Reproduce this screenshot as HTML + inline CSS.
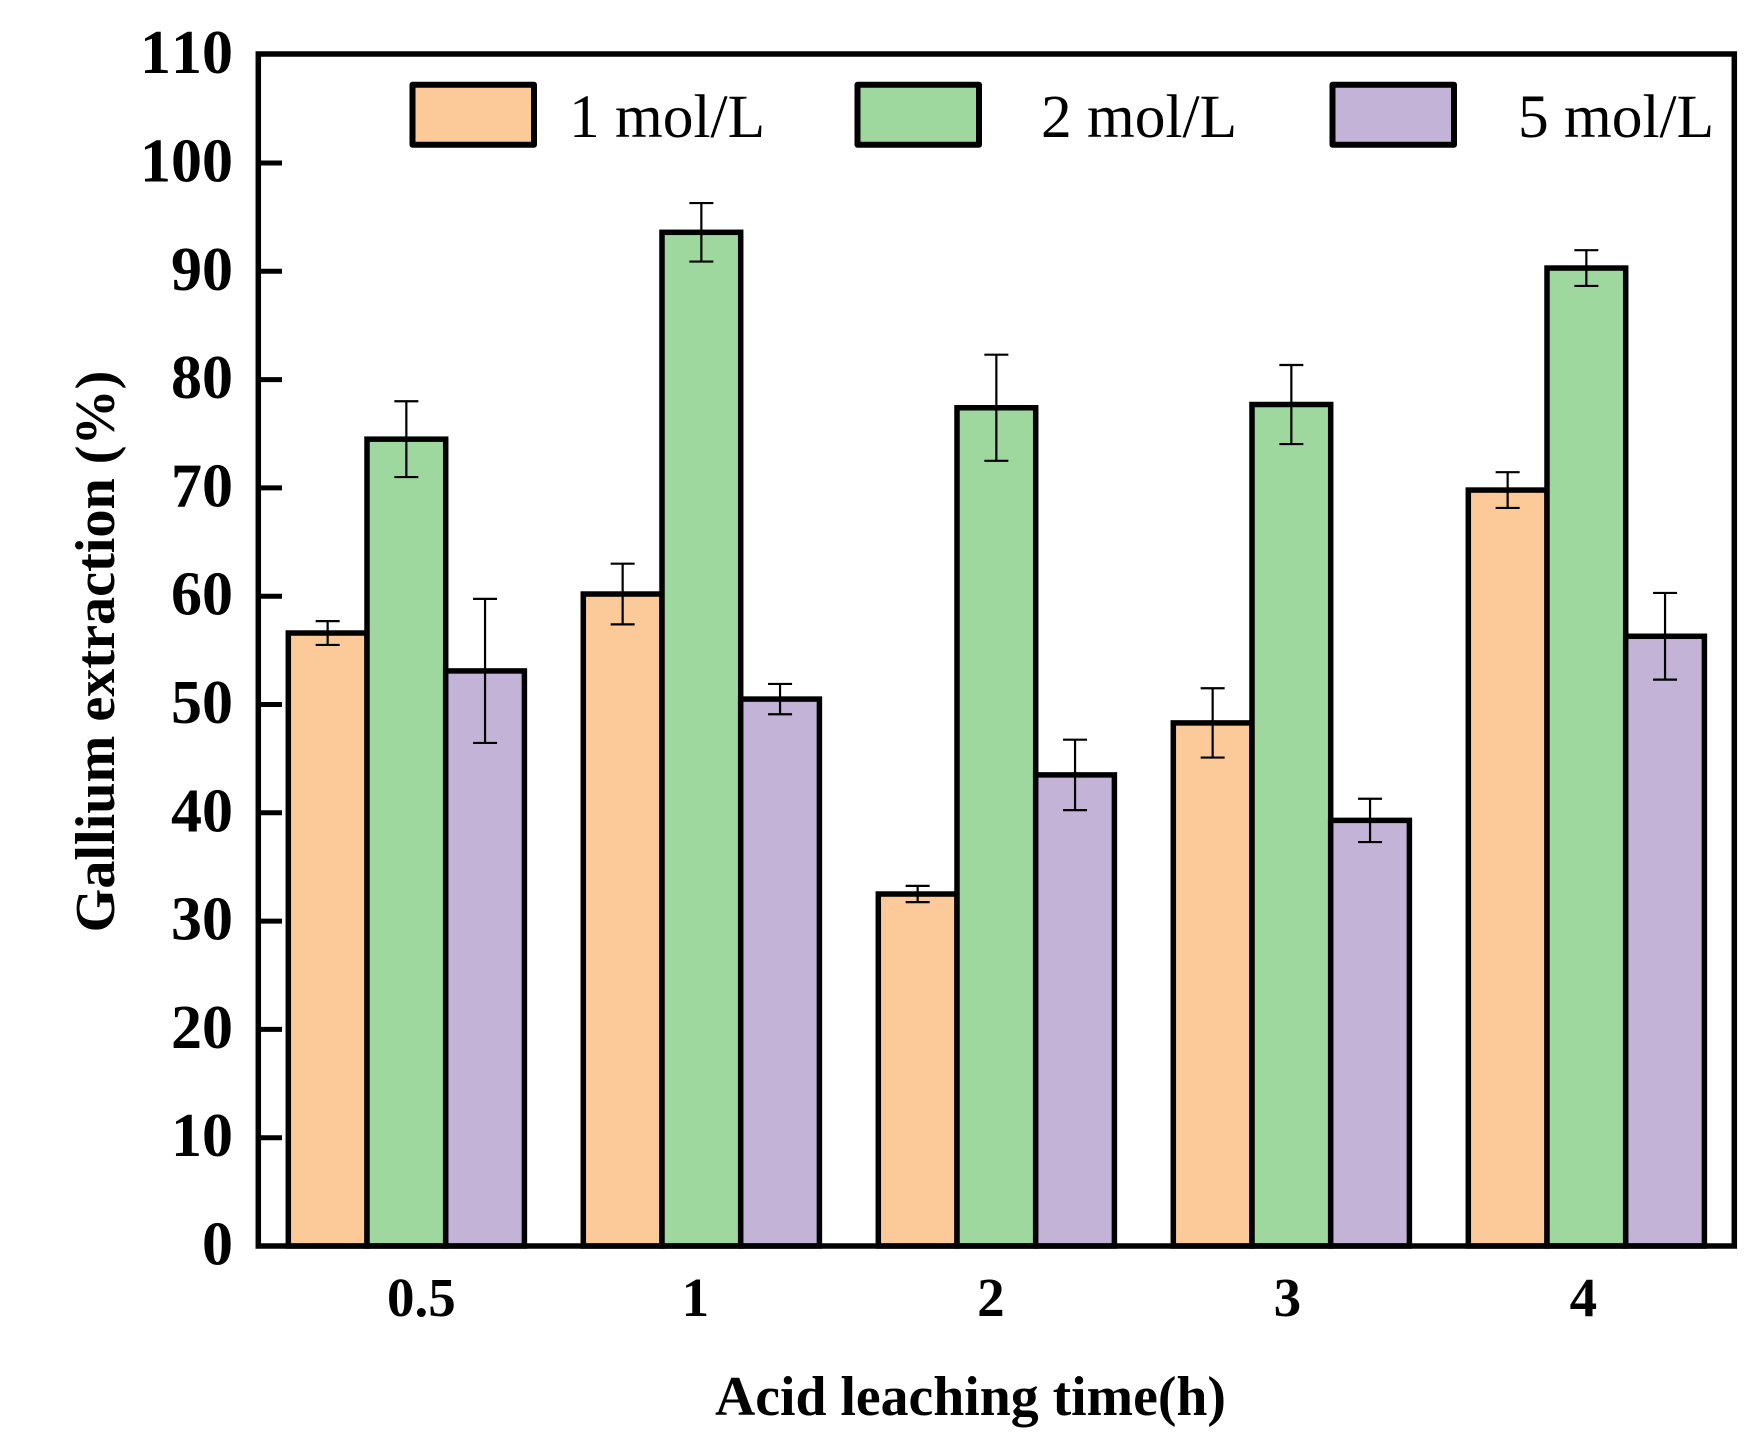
<!DOCTYPE html>
<html lang="en">
<head>
<meta charset="utf-8">
<title>Gallium extraction vs acid leaching time</title>
<style>
html,body{margin:0;padding:0;background:#fff;}
svg{display:block;}
text{font-family:"Liberation Serif",serif;fill:#000;font-kerning:none;}
</style>
</head>
<body>
<svg id="chart" xmlns="http://www.w3.org/2000/svg" width="1761" height="1455" viewBox="0 0 1761 1455">
<rect x="0" y="0" width="1761" height="1455" fill="#ffffff"/>
<g id="bars"></g>
<g id="errors"></g>
<g id="yaxis"></g>
<g id="xaxis"></g>
<rect x="258.3" y="54" width="1476" height="1192" fill="none" stroke="#000" stroke-width="5.5"/>
<g id="legend"></g>
<text x="715" y="1415" font-size="55.75" font-weight="bold">Acid leaching time(h)</text>
<text transform="translate(114,651.5) rotate(-90)" text-anchor="middle" font-size="56.2" font-weight="bold">Gallium extraction (%)</text>
</svg>
<script>
const categories = ['0.5', '1', '2', '3', '4'];
const seriesNames = ['1 mol/L', '2 mol/L', '5 mol/L'];
const values1M = [56.6, 60.2, 32.5, 48.3, 69.8];
const values2M = [74.5, 93.6, 77.4, 77.7, 90.3];
const values5M = [53.1, 50.5, 43.5, 39.3, 56.3];
const errors1M = [1.1, 2.8, 0.75, 3.2, 1.65];
const errors2M = [3.5, 2.7, 4.9, 3.65, 1.65];
const errors5M = [6.65, 1.4, 3.25, 2.0, 4.0];
const yTickValues = [0, 10, 20, 30, 40, 50, 60, 70, 80, 90, 100, 110];

const seriesValues = [values1M, values2M, values5M];
const seriesErrors = [errors1M, errors2M, errors5M];
const seriesKeys = ['1-mol', '2-mol', '5-mol'];
const seriesColors = ['#FCC998', '#9FD89E', '#C2B3D7'];

const NS = 'http://www.w3.org/2000/svg';
const PLOT_LEFT = 258.3;
const Y_ZERO = 1246;
const PX_PER_UNIT = 10.83;
const GROUP_LEFT = 288.3;
const GROUP_STEP = 295;
const BAR_WIDTH = 78.7;
const CAP_HALF = 12;
const xLabelNudge = [15, -6, -5.5, -4, -3];
const legendSwatchLeft = [412.5, 857.5, 1332.5];
const legendTextLeft = [569, 1041, 1518];

function yScale(v) { return Y_ZERO - v * PX_PER_UNIT; }
function barLeft(groupIndex, seriesIndex) { return GROUP_LEFT + groupIndex * GROUP_STEP + seriesIndex * BAR_WIDTH; }
function groupCenter(groupIndex) { return GROUP_LEFT + groupIndex * GROUP_STEP + BAR_WIDTH * 1.5; }

function make(tag, parent, attrs, text) {
  const el = document.createElementNS(NS, tag);
  for (const k in attrs) el.setAttribute(k, attrs[k]);
  if (text !== undefined) el.textContent = text;
  parent.appendChild(el);
  return el;
}

const barsG = document.getElementById('bars');
const errorsG = document.getElementById('errors');
const yG = document.getElementById('yaxis');
const xG = document.getElementById('xaxis');
const legendG = document.getElementById('legend');

seriesValues.forEach(function (vals, s) {
  vals.forEach(function (v, g) {
    const bar = make('rect', barsG, {
      x: barLeft(g, s), y: yScale(v), width: BAR_WIDTH, height: Y_ZERO - yScale(v),
      fill: seriesColors[s], stroke: '#000', 'stroke-width': 5.5
    });
    
    
  });
});

seriesValues.forEach(function (vals, s) {
  vals.forEach(function (v, g) {
    const e = seriesErrors[s][g];
    const cx = barLeft(g, s) + BAR_WIDTH / 2;
    const yHi = yScale(v + e);
    const yLo = yScale(v - e);
    const err = make('path', errorsG, {
      d: 'M' + (cx - CAP_HALF) + ' ' + yHi + 'H' + (cx + CAP_HALF) +
         'M' + cx + ' ' + yHi + 'V' + yLo +
         'M' + (cx - CAP_HALF) + ' ' + yLo + 'H' + (cx + CAP_HALF),
      fill: 'none', stroke: '#000', 'stroke-width': 2.2
    });
    
    
  });
});

yTickValues.forEach(function (t) {
  const y = yScale(t);
  if (t > 0 && t < 110) {
    const tick = make('line', yG, { x1: PLOT_LEFT, x2: 282, y1: y, y2: y, stroke: '#000', 'stroke-width': 5 });
    
    
  }
  const label = make('text', yG, { x: 233, y: y + 18.5, 'text-anchor': 'end', 'font-size': 62, 'font-weight': 'bold' }, String(t));
  
  
});

categories.forEach(function (c, g) {
  const label = make('text', xG, { x: groupCenter(g) + xLabelNudge[g], y: 1316, 'text-anchor': 'middle', 'font-size': 55, 'font-weight': 'bold' }, c);
  
  
});

seriesNames.forEach(function (name, s) {
  const swatch = make('rect', legendG, {
    x: legendSwatchLeft[s], y: 84.7, width: 121.5, height: 60,
    fill: seriesColors[s], stroke: '#000', 'stroke-width': 6, 'stroke-linejoin': 'round'
  });
  
  
  const label = make('text', legendG, { x: legendTextLeft[s], y: 137, 'font-size': 61.4 }, name);
  
  
});
</script>
</body>
</html>
